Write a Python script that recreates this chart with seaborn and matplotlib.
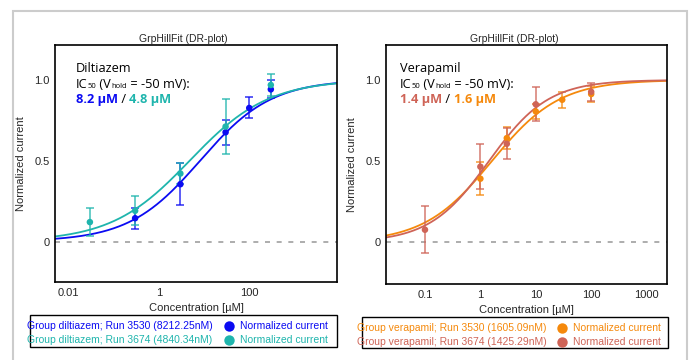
import numpy as np
import pandas as pd
import seaborn as sns
import matplotlib.pyplot as plt
from matplotlib.patches import Rectangle
from matplotlib.lines import Line2D
from matplotlib.ticker import FixedLocator, FixedFormatter, NullLocator

sns.set_style("white")
plt.rcParams['font.family'] = ['Liberation Sans', 'DejaVu Sans']

# Diltiazem (left panel)
dil_conc_3530 = [0.3, 3, 30, 100, 300]
dil_resp_3530 = [0.144, 0.354, 0.675, 0.825, 0.94]
dil_err_3530 = [0.065, 0.13, 0.078, 0.065, 0.055]
dil_conc_3674 = [0.03, 0.3, 3, 30, 300]
dil_resp_3674 = [0.12, 0.19, 0.42, 0.71, 0.967]
dil_err_3674 = [0.086, 0.09, 0.065, 0.17, 0.07]
dil_ic50 = [8.21225, 4.84034]   # uM
dil_hill = [0.55, 0.50]

# Verapamil (right panel)
ver_conc_3530 = [1, 3, 10, 30, 100]
ver_resp_3530 = [0.392, 0.642, 0.806, 0.878, 0.913]
ver_err_3530 = [0.10, 0.07, 0.045, 0.05, 0.05]
ver_conc_3674 = [0.1, 1, 3, 10, 100]
ver_resp_3674 = [0.078, 0.466, 0.607, 0.85, 0.927]
ver_err_3674 = [0.145, 0.14, 0.095, 0.105, 0.055]
ver_ic50 = [1.60509, 1.42529]
ver_hill = [0.71, 0.81]

c_blue = '#0b0bf2'
c_cyan = '#1fb5ad'
c_orange = '#f5890c'
c_red = '#cf6457'

W, H = 691, 360
fig = plt.figure(figsize=(W / 100, H / 100), dpi=100)
renderer = fig.canvas.get_renderer()


def fx(x):
    return x / W


def fy(y):
    return 1 - y / H


def hill(x, ic50, n):
    return 1 / (1 + (ic50 / x) ** n)


def chain(x0, y0, parts, family):
    # parts: (text, size, color, weight)
    x = x0
    for txt, size, col, weight in parts:
        t = fig.text(fx(x), fy(y0), txt, fontsize=size, color=col, weight=weight,
                     family=family, va='baseline')
        x = t.get_window_extent(renderer).x1


def panel(rect, xlim, ylim, series, xticks, xlabels):
    ax = fig.add_axes(rect)
    xs = np.logspace(np.log10(xlim[0]), np.log10(xlim[1]), 300)
    for conc, resp, err, ic50, n, col in series:
        curve = pd.DataFrame({'x': xs, 'y': hill(xs, ic50, n)})
        sns.lineplot(data=curve, x='x', y='y', color=col, lw=1.3, ax=ax)
        ax.errorbar(conc, resp, yerr=err, fmt='none', ecolor=col, elinewidth=1.1,
                    capsize=3, capthick=1.1, alpha=0.85)
        pts = pd.DataFrame({'x': conc, 'y': resp})
        sns.scatterplot(data=pts, x='x', y='y', color=col, s=22, edgecolor='none', ax=ax, zorder=5)
    ax.axhline(0, color='#a0a0a0', lw=1.2, ls=(0, (3, 4)), zorder=0)
    ax.set_xscale('log')
    ax.set_xlim(*xlim)
    ax.set_ylim(*ylim)
    ax.xaxis.set_major_locator(FixedLocator(xticks))
    ax.xaxis.set_major_formatter(FixedFormatter(xlabels))
    ax.xaxis.set_minor_locator(NullLocator())
    ax.set_yticks([0, 0.5, 1.0])
    ax.set_yticklabels(['0', '0.5', '1.0'])
    ax.tick_params(length=0, labelsize=8, pad=4)
    ax.set_xlabel('Concentration [µM]', fontsize=8, labelpad=4)
    ax.set_ylabel('Normalized current', fontsize=8, labelpad=6)
    for s in ax.spines.values():
        s.set_color('black')
        s.set_linewidth(1.2)
    return ax


ax1 = panel([fx(55), fy(282), fx(282), (282 - 45) / H],
            (0.00508, 8710), (-0.25, 1.214),
            [(dil_conc_3530, dil_resp_3530, dil_err_3530, dil_ic50[0], dil_hill[0], c_blue),
             (dil_conc_3674, dil_resp_3674, dil_err_3674, dil_ic50[1], dil_hill[1], c_cyan)],
            [0.01, 1, 100], ['0.01', '1', '100'])

ax2 = panel([fx(386), fy(284), fx(281), (284 - 45) / H],
            (0.0198, 2335), (-0.256, 1.215),
            [(ver_conc_3530, ver_resp_3530, ver_err_3530, ver_ic50[0], ver_hill[0], c_orange),
             (ver_conc_3674, ver_resp_3674, ver_err_3674, ver_ic50[1], ver_hill[1], c_red)],
            [0.1, 1, 10, 100, 1000], ['0.1', '1', '10', '100', '1000'])

# outer frame
fig.add_artist(Rectangle((fx(13), fy(400)), fx(687 - 13), (400 - 11) / H, fill=False,
                         edgecolor='#cccccc', lw=1.5, transform=fig.transFigure))

# titles
fig.text(fx(183), fy(39), 'GrpHillFit (DR-plot)', ha='center', va='center', fontsize=7.5)
fig.text(fx(514), fy(39), 'GrpHillFit (DR-plot)', ha='center', va='center', fontsize=7.5)

# annotation texts
ann_font = ['Open Sans', 'DejaVu Sans']
fs = 9.2
for x0, name, c1, v1, c2, v2 in [(76, 'Diltiazem', c_blue, '8.2 µM', c_cyan, '4.8 µM'),
                                 (400, 'Verapamil', c_red, '1.4 µM', c_orange, '1.6 µM')]:
    chain(x0, 72, [(name, fs, 'black', 'normal')], ann_font)
    chain(x0, 88, [('IC', fs, 'black', 'normal'), ('50', 5.5, 'black', 'normal'),
                   (' (V', fs, 'black', 'normal'), ('hold', 5.5, 'black', 'normal'),
                   (' = -50 mV):', fs, 'black', 'normal')], ann_font)
    chain(x0, 103, [(v1, fs, c1, 'bold'), (' / ', fs, 'black', 'normal'),
                    (v2, fs, c2, 'bold')], ann_font)

# legends
legends = [
    ((30, 315, 337, 347), [(26.7, 325.7, 229.3, 240, 'Group diltiazem; Run 3530 (8212.25nM)', c_blue),
                           (26.7, 340, 229.3, 240, 'Group diltiazem; Run 3674 (4840.34nM)', c_cyan)]),
    ((361.7, 316.7, 667.7, 348.3), [(356.7, 327.7, 561.7, 573.3, 'Group verapamil; Run 3530 (1605.09nM)', c_orange),
                                    (356.7, 342.3, 561.7, 573.3, 'Group verapamil; Run 3674 (1425.29nM)', c_red)]),
]
for (x0, y0, x1, y1), rows in legends:
    fig.add_artist(Rectangle((fx(x0), fy(y1)), fx(x1 - x0), (y1 - y0) / H, fill=False,
                             edgecolor='black', lw=1.0, transform=fig.transFigure))
    for tx, ty, mx, lx, label, col in rows:
        fig.text(fx(tx), fy(ty), label, fontsize=7.5, color=col, va='center')
        fig.add_artist(Line2D([fx(mx)], [fy(ty)], marker='o', ms=7.5, color=col, mec='none',
                              transform=fig.transFigure))
        fig.text(fx(lx), fy(ty), 'Normalized current', fontsize=7.5, color=col, va='center')

fig.savefig('out.png', dpi=100)
